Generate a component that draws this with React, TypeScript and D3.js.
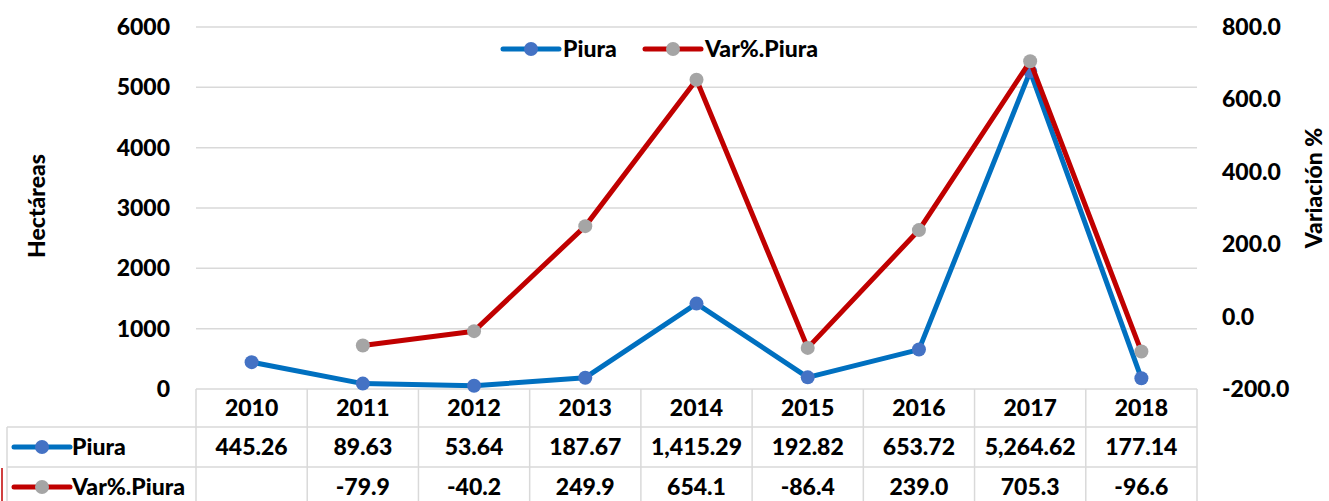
import React from "react";
import * as d3 from "d3";

const years = ["2010", "2011", "2012", "2013", "2014", "2015", "2016", "2017", "2018"];
const piura = [445.26, 89.63, 53.64, 187.67, 1415.29, 192.82, 653.72, 5264.62, 177.14];
const varPiura: (number | null)[] = [null, -79.9, -40.2, 249.9, 654.1, -86.4, 239.0, 705.3, -96.6];
const leftTicks = [0, 1000, 2000, 3000, 4000, 5000, 6000];
const rightTicks = [-200, 0, 200, 400, 600, 800];

const FONT = "Lato, 'Open Sans', sans-serif";
const BLUE = "#0070C0";
const BLUE_DOT = "#4472C4";
const RED = "#C00000";
const GREY_DOT = "#A5A5A5";
const GRID = "#D9D9D9";
const FS = 23;

// hyphen-minus like Excel instead of d3's unicode minus
const locale = d3.formatLocale({ decimal: ".", thousands: ",", grouping: [3], currency: ["", ""], minus: "-" });
const fmt2 = locale.format(",.2f");
const fmt1 = locale.format(".1f");

const App = () => {
  const left = 196;
  const right = 1197;
  const top = 27;
  const bottom = 389;
  const rowH = [38, 40, 40];

  const x = d3.scaleBand().domain(years).range([left, right]);
  const yL = d3.scaleLinear().domain([0, 6000]).range([bottom, top]);
  const yR = d3.scaleLinear().domain([-200, 800]).range([bottom, top]);
  const cx = (i: number) => (x(years[i]) as number) + x.bandwidth() / 2;

  const linePiura = d3.line<number>().x((d, i) => cx(i)).y(d => yL(d));
  const lineVar = d3.line<number | null>()
    .defined(d => d !== null)
    .x((d, i) => cx(i))
    .y(d => yR(d as number));

  const r1 = bottom + rowH[0];
  const r2 = r1 + rowH[1];
  const r3 = r2 + rowH[2];

  const legendIcon = (x0: number, y0: number, stroke: string, dot: string) => (
    <g>
      <line x1={x0} x2={x0 + 56} y1={y0} y2={y0} stroke={stroke} strokeWidth={5} strokeLinecap="round" />
      <circle cx={x0 + 28} cy={y0} r={7} fill={dot} />
    </g>
  );

  return (
    <svg width={1329} height={501} style={{ position: "absolute", left: 0, top: 0, background: "#fff" }}
      fontFamily={FONT} fontWeight={900}>
      {/* grid */}
      {leftTicks.slice(1).map(t => (
        <line key={t} x1={left} x2={right} y1={yL(t)} y2={yL(t)} stroke={GRID} strokeWidth={1.5} />
      ))}
      <g fontSize={FS} fill="#000">
        {leftTicks.map(t => (
          <text key={t} x={170} y={yL(t)} dy="0.35em" textAnchor="end">{t}</text>
        ))}
        {rightTicks.map(t => (
          <text key={t} x={1222} y={yR(t)} dy="0.35em" textAnchor="start">{fmt1(t)}</text>
        ))}
        <text transform={`translate(45,${(top + bottom) / 2 - 2}) rotate(-90)`} textAnchor="middle">Hectáreas</text>
        <text transform={`translate(1322,${(top + bottom) / 2 - 20}) rotate(-90)`} textAnchor="middle">Variación %</text>
      </g>

      {/* table */}
      <g stroke={GRID} strokeWidth={1.5} fill="none">
        <line x1={left} x2={right} y1={bottom} y2={bottom} />
        <line x1={7} x2={right} y1={r1} y2={r1} />
        <line x1={7} x2={right} y1={r2} y2={r2} />
        <line x1={7} x2={right} y1={r3} y2={r3} />
        <line x1={7} x2={7} y1={r1} y2={r3} />
        {years.map(yr => (
          <line key={yr} x1={x(yr)} x2={x(yr)} y1={bottom} y2={r3} />
        ))}
        <line x1={right} x2={right} y1={bottom} y2={r3} />
      </g>
      {years.map((yr, i) => (
        <g key={yr} fontSize={FS} textAnchor="middle">
          <text x={cx(i)} y={(bottom + r1) / 2} dy="0.35em">{yr}</text>
          <text x={cx(i)} y={(r1 + r2) / 2} dy="0.35em">{fmt2(piura[i])}</text>
          {varPiura[i] !== null && (
            <text x={cx(i)} y={(r2 + r3) / 2} dy="0.35em">{fmt1(varPiura[i] as number)}</text>
          )}
        </g>
      ))}
      {legendIcon(14, (r1 + r2) / 2, BLUE, BLUE_DOT)}
      <text x={72} y={(r1 + r2) / 2} dy="0.35em" fontSize={FS}>Piura</text>
      {legendIcon(14, (r2 + r3) / 2, RED, GREY_DOT)}
      <text x={72} y={(r2 + r3) / 2} dy="0.35em" fontSize={FS}>Var%.Piura</text>
      <line x1={2} x2={2} y1={468} y2={501} stroke={RED} strokeWidth={1.5} />

      {/* series */}
      <path d={linePiura(piura) as string} fill="none" stroke={BLUE} strokeWidth={5} strokeLinejoin="round" />
      {piura.map((v, i) => (
        <circle key={i} cx={cx(i)} cy={yL(v)} r={7} fill={BLUE_DOT} />
      ))}
      <path d={lineVar(varPiura) as string} fill="none" stroke={RED} strokeWidth={5} strokeLinejoin="round" />
      {varPiura.map((v, i) => v !== null && (
        <circle key={i} cx={cx(i)} cy={yR(v)} r={7} fill={GREY_DOT} />
      ))}

      {/* legend */}
      {legendIcon(503, 49, BLUE, BLUE_DOT)}
      <text x={563} y={49} dy="0.35em" fontSize={FS}>Piura</text>
      {legendIcon(645, 49, RED, GREY_DOT)}
      <text x={705} y={49} dy="0.35em" fontSize={FS}>Var%.Piura</text>
    </svg>
  );
};

export default App;
